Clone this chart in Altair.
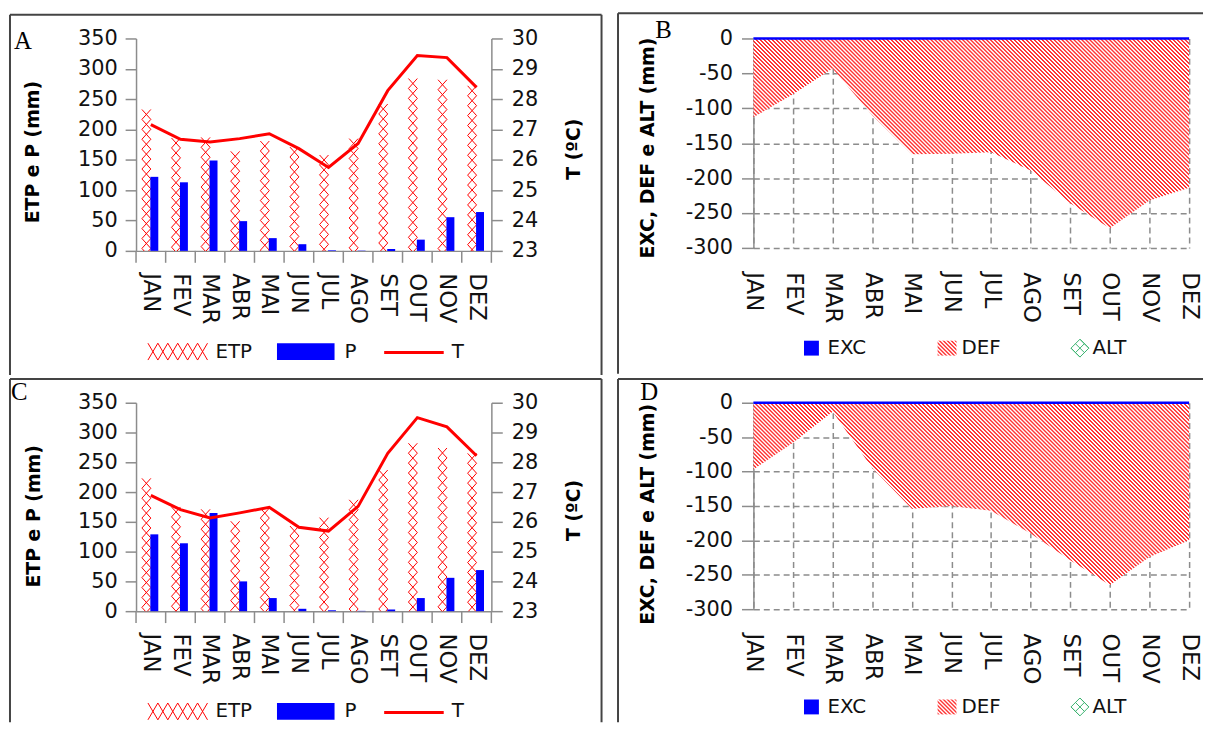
import altair as alt
import pandas as pd

# ---------------- data ----------------
months = ["JAN", "FEV", "MAR", "ABR", "MAI", "JUN", "JUL", "AGO", "SET", "OUT", "NOV", "DEZ"]

etp_a = [233, 186, 187, 164, 181, 171, 158, 185, 242, 284, 282, 272]
p_a = [122, 113, 149, 49, 21, 11, 1, 0.5, 3, 18.5, 55.5, 64]
t_a = [27.16, 26.68, 26.59, 26.70, 26.86, 26.37, 25.75, 26.54, 28.28, 29.44, 29.37, 28.39]

def_b = [-113, -80, -43, -110, -166, -165, -163, -189, -236, -272, -232, -214]
exc_b = [0, 0, 0, 0, 0, 0, 0, 0, 0, 0, 0, 0]

etp_c = [223, 175, 171, 151, 173, 143, 157, 187, 237, 282, 274, 265]
p_c = [129, 114, 165, 50, 22, 4, 1.5, 0.5, 3, 22, 56, 69]
t_c = [26.89, 26.41, 26.13, 26.30, 26.49, 25.82, 25.69, 26.52, 28.30, 29.50, 29.19, 28.22]

def_d = [-97, -58, -13, -95, -154, -150, -157, -190, -229, -265, -224, -200]
exc_d = [0, 0, 0, 0, 0, 0, 0, 0, 0, 0, 0, 0]

mm_ticks = [0, 50, 100, 150, 200, 250, 300, 350]
t_ticks = [23, 24, 25, 26, 27, 28, 29, 30]
def_ticks = [-300, -250, -200, -150, -100, -50, 0]

# ---------------- styles ----------------
FONT = "DejaVu Sans"
RED = "#ff0000"
STRIPE = "#ff3535"
BLUE = "#0000ff"
GRAY = "#8c8c8c"
FRAME = "#444444"
TXT = "#111111"
GREEN = "#3cb371"

one = pd.DataFrame({"k": [0]})

XPATH = "M-0.9,-1L0.9,1M0.9,-1L-0.9,1"
segs = []
for i in range(6):
    x0 = -1 + i / 3
    x1 = x0 + 1 / 3
    segs.append(f"M{x0:.3f},-0.283L{x1:.3f},0.283M{x1:.3f},-0.283L{x0:.3f},0.283")
ETP_LEG_PATH = "".join(segs)
ALT_PATH = ("M0,-1L1,0L0,1L-1,0Z M-0.5,-0.5L0.5,0.5 M0.5,-0.5L-0.5,0.5 "
            "M-1,0L0,1 M0,-1L1,0")


def stripes(W, H, sh=4.0):
    # 45-degree "\" stripes with a horizontal period of sh pixels (soft edges)
    a = 1.0 / H
    b = 1.0 / W
    k = (a + b) / (a * a + b * b)
    n = max(1, int(-(-(W + H) // sh)))
    s = n * sh / (W + H)
    stops = [alt.GradientStop(color=STRIPE, offset=0)]
    for i in range(n):
        for frac, col in ((0.38, STRIPE), (0.58, "#ffffff"), (0.88, "#ffffff")):
            stops.append(alt.GradientStop(color=col, offset=round((i + frac) / n, 6)))
        if i < n - 1:
            stops.append(alt.GradientStop(color=STRIPE, offset=round((i + 1.08) / n, 6)))
    stops.append(alt.GradientStop(color="#ffffff", offset=1))
    return alt.LinearGradient(gradient="linear", stops=stops, x1=0, y1=1,
                              x2=round(s * k * a, 6), y2=round(1 - s * k * b, 6))


def hrule(x1, x2, y):
    return alt.Chart(one).mark_rule(color=FRAME, strokeWidth=2).encode(
        x=alt.value(x1), x2=alt.value(x2), y=alt.value(y))


def vrule(x, y1, y2):
    return alt.Chart(one).mark_rule(color=FRAME, strokeWidth=2).encode(
        x=alt.value(x), y=alt.value(y1), y2=alt.value(y2))


def txt(s, x, y, size=20, font=FONT, color=TXT, baseline="middle"):
    return alt.Chart(one).mark_text(text=s, font=font, fontSize=size, color=color,
                                    align="left", baseline=baseline).encode(
        x=alt.value(x), y=alt.value(y))


def climate_panel(letter, etp, p, t, W, H, ftop, fbot, leg_y, letter_xy, lt_xy, rt_xy):
    df = pd.DataFrame({"month": months, "ETP": etp, "P": p, "T": t})
    xaxis = alt.Axis(title=None, labelAngle=90, labelFont=FONT, labelFontSize=23,
                     labelColor=TXT, ticks=False, tickSize=0, labelPadding=22,
                     domainColor=GRAY, domainWidth=1.5, grid=False)

    def xe(**kw):
        return alt.X("month:N", sort=months,
                     scale=alt.Scale(paddingInner=0, paddingOuter=0), axis=xaxis, **kw)

    yscale = alt.Scale(domain=[0, 350], nice=False)
    yaxis = alt.Axis(values=mm_ticks, title="ETP e P (mm)", orient="left",
                     titleFont=FONT, titleFontSize=19, titleFontWeight="bold",
                     titleColor="#000000", titleAngle=270, titleX=lt_xy[0], titleY=lt_xy[1],
                     titleAlign="center", titleBaseline="middle",
                     labelFont=FONT, labelFontSize=21, labelColor=TXT, labelPadding=8,
                     tickSize=11, tickColor=GRAY, tickWidth=1.5,
                     domainColor=GRAY, domainWidth=1.5, grid=False)
    raxis = alt.Axis(values=t_ticks, title="T (ºC)", orient="right",
                     titleFont=FONT, titleFontSize=19, titleFontWeight="bold",
                     titleColor="#000000", titleAngle=270, titleX=rt_xy[0], titleY=rt_xy[1],
                     titleAlign="center", titleBaseline="middle",
                     labelFont=FONT, labelFontSize=21, labelColor=TXT, labelPadding=9,
                     tickSize=11, tickColor=GRAY, tickWidth=1.5,
                     domainColor=GRAY, domainWidth=1.5, grid=False)
    step = 350 * 10 / H
    half = step / 2
    hatch = (alt.Chart(df)
             .transform_calculate(ys=f"sequence(datum.ETP - {half:.4f}, {-half:.4f}, {-step:.4f})")
             .transform_flatten(["ys"])
             .mark_point(shape=XPATH, size=100, filled=False, color=RED, strokeWidth=1,
                         opacity=1, xOffset=-4.5, clip=True)
             .encode(x=xe(), y=alt.Y("ys:Q", scale=yscale, axis=yaxis)))
    bars = alt.Chart(df).mark_bar(color=BLUE, width=8, xOffset=3.5).encode(
        x=xe(), y=alt.Y("P:Q", scale=yscale, axis=yaxis))
    line = alt.Chart(df).mark_line(color=RED, strokeWidth=3).encode(
        x=xe(), y=alt.Y("T:Q", scale=alt.Scale(domain=[23, 30], nice=False, zero=False), axis=raxis))
    xticks = alt.Chart(df).mark_rule(color=GRAY, strokeWidth=1.5).encode(
        x=xe(bandPosition=0), y=alt.value(H), y2=alt.value(H + 12))
    lasttick = alt.Chart(one).mark_rule(color=GRAY, strokeWidth=1.5).encode(
        x=alt.value(W), y=alt.value(H), y2=alt.value(H + 12))

    left, right = -127, 469
    frames = [hrule(left, right, ftop), vrule(left, ftop, fbot), vrule(right, ftop, fbot)]

    leg = [
        alt.Chart(one).mark_point(shape=ETP_LEG_PATH, size=3600, filled=False, color=RED,
                                  strokeWidth=1, opacity=1).encode(x=alt.value(42), y=alt.value(leg_y)),
        txt("ETP", 80, leg_y),
        alt.Chart(one).mark_rect(color=BLUE).encode(
            x=alt.value(142), x2=alt.value(200), y=alt.value(leg_y - 8.5), y2=alt.value(leg_y + 8.5)),
        txt("P", 210, leg_y),
        alt.Chart(one).mark_rule(color=RED, strokeWidth=3).encode(
            x=alt.value(250), x2=alt.value(310), y=alt.value(leg_y + 1)),
        txt("T", 318, leg_y),
    ]
    lab = txt(letter, letter_xy[0], letter_xy[1], size=25, font="Liberation Serif",
              color="#000000", baseline="alphabetic")
    return alt.layer(alt.layer(hatch, bars), line, xticks, lasttick, *frames, *leg, lab).resolve_scale(
        y="independent").properties(width=W, height=H)


def water_panel(letter, defv, exc, W, H, ftop, fbot, leg_y, letter_xy, lt_xy):
    df = pd.DataFrame({"month": months, "DEF": defv, "EXC": exc})
    xaxis = alt.Axis(title=None, labelAngle=90, labelFont=FONT, labelFontSize=23,
                     labelColor=TXT, ticks=False, tickSize=0, labelPadding=24,
                     domain=False, grid=True, gridColor=GRAY, gridWidth=1.5, gridDash=[6, 4])
    xb = alt.X("month:N", sort=months, scale=alt.Scale(type="point", padding=0), axis=xaxis)
    yscale = alt.Scale(domain=[-300, 0], nice=False)
    yaxis = alt.Axis(values=def_ticks, title="EXC, DEF e ALT (mm)", orient="left",
                     titleFont=FONT, titleFontSize=19, titleFontWeight="bold",
                     titleColor="#000000", titleAngle=270, titleX=lt_xy[0], titleY=lt_xy[1],
                     titleAlign="center", titleBaseline="middle",
                     labelFont=FONT, labelFontSize=21, labelColor=TXT, labelPadding=9,
                     labelExpr="toString(datum.value)",
                     tickSize=12, tickColor=GRAY, tickWidth=1.5,
                     domainColor=GRAY, domainWidth=1.5,
                     grid=True, gridColor=GRAY, gridWidth=1.5, gridDash=[6, 4])
    area_h = -min(defv) / 300 * H
    area = alt.Chart(df).mark_area(fill=stripes(W, area_h), opacity=1, fillOpacity=1,
                                   strokeWidth=0).encode(
        x=xb, y=alt.Y("DEF:Q", scale=yscale, axis=yaxis))
    excl = alt.Chart(df).mark_line(color=BLUE, strokeWidth=2.5).encode(
        x=xb, y=alt.Y("EXC:Q", scale=yscale, axis=yaxis))

    left, right = -136.4, 453
    frames = [hrule(left, right, ftop), vrule(left, ftop, fbot)]
    leg = [
        alt.Chart(one).mark_rect(color=BLUE).encode(
            x=alt.value(51), x2=alt.value(66), y=alt.value(leg_y - 7.5), y2=alt.value(leg_y + 7.5)),
        txt("EXC", 74.6, leg_y),
        alt.Chart(one).mark_rect(fill=stripes(19, 15)).encode(
            x=alt.value(185.6), x2=alt.value(204.6), y=alt.value(leg_y - 7.5), y2=alt.value(leg_y + 7.5)),
        txt("DEF", 209.6, leg_y),
        alt.Chart(one).mark_point(shape=ALT_PATH, size=324, filled=False, color=GREEN,
                                  strokeWidth=1, opacity=1).encode(x=alt.value(329), y=alt.value(leg_y)),
        txt("ALT", 341.6, leg_y),
    ]
    lab = txt(letter, letter_xy[0], letter_xy[1], size=25, font="Liberation Serif",
              color="#000000", baseline="alphabetic")
    return alt.layer(area, excl, *frames, *leg, lab).properties(width=W, height=H)


pA = climate_panel("A", etp_a, p_a, t_a, 358, 214, -24, 339, 315.5, (-123, 11), (-104, 114), (83, 111))
pB = water_panel("B", def_b, exc_b, 439, 211, -25.3, 337.7, 312, (-99, 0), (-107, 110))
pC = climate_panel("C", etp_c, p_c, t_c, 358, 210, -24, 322, 311, (-126, -3), (-103, 114), (83, 108))
pD = water_panel("D", def_d, exc_d, 439, 208, -24, 322, 306.5, (-114, -3), (-107, 112))

chart = alt.vconcat(
    alt.hconcat(pA, pB, spacing=13),
    alt.hconcat(pC, pD, spacing=13),
    spacing=0,
).properties(
    padding={"left": 0, "top": 1, "right": 0, "bottom": 0},
    background="#ffffff",
).configure_view(stroke="transparent")

chart.save("out.html", embed_options={"renderer": "svg", "actions": False})
